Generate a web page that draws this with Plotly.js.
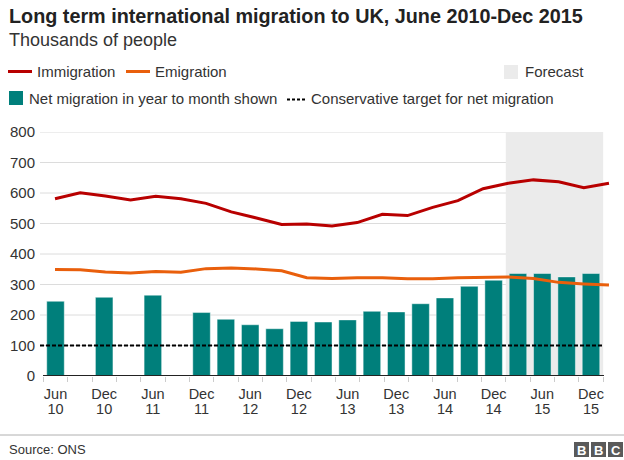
<!DOCTYPE html>
<html>
<head>
<meta charset="utf-8">
<script src="https://cdn.plot.ly/plotly-3.0.1.min.js"></script>
<style>
html,body{margin:0;padding:0;background:#fff;}
#chart{width:624px;height:460px;}
</style>
</head>
<body>
<div id="chart"></div>
<script>
// ---- Data (thousands of people), quarterly, year to month shown ----
const quarters = ['Jun 10','Sep 10','Dec 10','Mar 11','Jun 11','Sep 11','Dec 11','Mar 12','Jun 12','Sep 12','Dec 12','Mar 13','Jun 13','Sep 13','Dec 13','Mar 14','Jun 14','Sep 14','Dec 14','Mar 15','Jun 15','Sep 15','Dec 15'];
const immigration = [581,601,590,577,589,581,566,538,518,497,498,492,503,530,526,553,575,614,632,643,637,617,632];
const emigration  = [349,348,341,338,343,340,352,354,351,345,322,320,322,322,319,319,322,324,325,320,307,302,298];
const netMigration = [245,null,258,null,265,null,208,186,168,155,179,177,184,212,210,237,256,294,314,336,336,325,336];
const targetNet = 100;
const forecastFrom = 'Mar 15';
const yTicks = [0,100,200,300,400,500,600,700,800];
const titleText = 'Long term international migration to UK, June 2010-Dec 2015';
const subtitleText = 'Thousands of people';
const sourceText = 'Source: ONS';

// ---- Layout helpers ----
const FONT = 'Liberation Sans, Arial, Helvetica, sans-serif';
const L = 40, T = 132, W = 572, H = 244;
const fx = p => (p - L) / W;
const fy = p => (T + H - p) / H;

const idx = quarters.map((q, i) => i);
const labelIdx = idx.filter(i => /^(Jun|Dec)/.test(quarters[i]));
const monthText = labelIdx.map(i => quarters[i].split(' ')[0]);
const yearText = labelIdx.map(i => quarters[i].split(' ')[1]);
const boundaries = idx.map(i => i - 0.5).concat([quarters.length - 0.5]);
const fIdx = quarters.indexOf(forecastFrom);

const barRange = [-0.637, -0.637 + W / 24.34];
const lineRange = [-0.596, -0.596 + W / 25.18];

const traces = [
  {type:'bar', x: idx, y: netMigration, xaxis:'x', yaxis:'y', width:0.72,
   marker:{color:'#007f7b', line:{color:'rgba(255,255,255,0.45)', width:1}},
   hoverinfo:'skip', showlegend:false},
  {type:'scatter', mode:'lines', x: idx, y: emigration, xaxis:'x2', yaxis:'y',
   line:{color:'#e95f0c', width:3}, hoverinfo:'skip', showlegend:false},
  {type:'scatter', mode:'lines', x: idx, y: immigration, xaxis:'x2', yaxis:'y',
   line:{color:'#b80000', width:3}, hoverinfo:'skip', showlegend:false},
  // empty carriers so the tick-only overlay axes are drawn
  {type:'scatter', mode:'none', x:[], y:[], xaxis:'x3', yaxis:'y', hoverinfo:'skip', showlegend:false},
  {type:'scatter', mode:'none', x:[], y:[], xaxis:'x4', yaxis:'y', hoverinfo:'skip', showlegend:false}
];

const shapes = [];
// forecast shading
shapes.push({type:'rect', xref:'x', yref:'y', x0:fIdx-0.5, x1:quarters.length-0.5, y0:0, y1:yTicks[yTicks.length-1],
  fillcolor:'#ebebeb', line:{width:0}, layer:'below'});
// gridlines
yTicks.filter(v => v > 0).forEach(v => shapes.push({type:'line', xref:'paper', yref:'y', x0:0, x1:fx(603), y0:v, y1:v,
  line:{color:'#dcdcdc', width:1}, layer:'below'}));
// target dashed line
shapes.push({type:'line', xref:'paper', yref:'y', x0:0, x1:fx(603), y0:targetNet, y1:targetNet,
  line:{color:'#000', width:2, dash:'4px,2px'}, layer:'above'});
// zero axis line
shapes.push({type:'line', xref:'paper', yref:'y', x0:fx(43), x1:fx(604), y0:0, y1:0,
  line:{color:'#222', width:2}, layer:'above'});
// legend marks
shapes.push({type:'line', xref:'paper', yref:'paper', x0:fx(8), x1:fx(32), y0:fy(71.5), y1:fy(71.5), line:{color:'#b80000', width:3}});
shapes.push({type:'line', xref:'paper', yref:'paper', x0:fx(126), x1:fx(150), y0:fy(71.5), y1:fy(71.5), line:{color:'#e95f0c', width:3}});
shapes.push({type:'rect', xref:'paper', yref:'paper', x0:fx(504), x1:fx(518), y0:fy(79), y1:fy(65), fillcolor:'#ebebeb', line:{width:0}});
shapes.push({type:'rect', xref:'paper', yref:'paper', x0:fx(9), x1:fx(23), y0:fy(105), y1:fy(91), fillcolor:'#007f7b', line:{width:0}});
shapes.push({type:'line', xref:'paper', yref:'paper', x0:fx(287), x1:fx(307), y0:fy(99.5), y1:fy(99.5), line:{color:'#000', width:2, dash:'3px,2px'}});
// footer line
shapes.push({type:'line', xref:'paper', yref:'paper', x0:fx(0), x1:fx(624), y0:fy(435), y1:fy(435), line:{color:'#b0b0b0', width:1}});
// BBC blocks
[574, 591, 608].forEach(x => shapes.push({type:'rect', xref:'paper', yref:'paper', x0:fx(x), x1:fx(x+15), y0:fy(457), y1:fy(442),
  fillcolor:'#5a5a5a', line:{width:0}}));

const ann = (text, x, y, size, opts) => Object.assign({text, xref:'paper', yref:'paper', x:fx(x), y:fy(y),
  xanchor:'left', yanchor:'middle', showarrow:false, font:{family:FONT, size, color:'#333'}}, opts || {});

const annotations = [
  ann('<b>' + titleText + '</b>', 7, 16, 19.8, {font:{family:FONT, size:19.8, color:'#222'}}),
  ann(subtitleText, 7, 40, 18, {font:{family:FONT, size:18, color:'#333'}}),
  ann('Immigration', 35, 72, 15),
  ann('Emigration', 153, 72, 15),
  ann('Forecast', 523, 72, 15),
  ann('Net migration in year to month shown', 27, 99, 15),
  ann('Conservative target for net migration', 309, 99, 15),
  ann(sourceText, 7, 449, 13),
  ann('<b>B</b>', 581.5, 450, 13, {xanchor:'center', font:{family:FONT, size:13, color:'#fff'}}),
  ann('<b>B</b>', 598.5, 450, 13, {xanchor:'center', font:{family:FONT, size:13, color:'#fff'}}),
  ann('<b>C</b>', 615.5, 450, 13, {xanchor:'center', font:{family:FONT, size:13, color:'#fff'}})
];

const layout = {
  width:624, height:460,
  margin:{l:L, r:624-L-W, t:T, b:460-T-H, pad:0},
  paper_bgcolor:'#fff', plot_bgcolor:'rgba(0,0,0,0)',
  showlegend:false, bargap:0,
  font:{family:FONT, size:15, color:'#333'},
  xaxis:{range:barRange, tickmode:'array', tickvals:labelIdx, ticktext:monthText, ticks:'',
    showgrid:false, zeroline:false, showline:false, fixedrange:true,
    tickfont:{family:FONT, size:14.5, color:'#333'}, ticklabelstandoff:7},
  xaxis2:{range:lineRange, overlaying:'x', anchor:'y', visible:false, fixedrange:true},
  xaxis3:{range:barRange, overlaying:'x', anchor:'y', tickmode:'array', tickvals:boundaries, ticks:'outside',
    ticklen:5, tickcolor:'#cccccc', tickwidth:1, showticklabels:false, showgrid:false, zeroline:false, showline:false},
  xaxis4:{range:barRange, overlaying:'x', anchor:'y', tickmode:'array', tickvals:labelIdx, ticktext:yearText, ticks:'',
    showgrid:false, zeroline:false, showline:false, tickfont:{family:FONT, size:14.5, color:'#333'}, ticklabelstandoff:22},
  yaxis:{range:[0,800], tickmode:'array', tickvals:yTicks, ticks:'', showgrid:false, zeroline:false, showline:false,
    tickfont:{family:FONT, size:15, color:'#333'}, ticklabelstandoff:4, fixedrange:true},
  shapes, annotations
};

Plotly.newPlot('chart', traces, layout, {staticPlot:true, displayModeBar:false});
</script>
</body>
</html>
